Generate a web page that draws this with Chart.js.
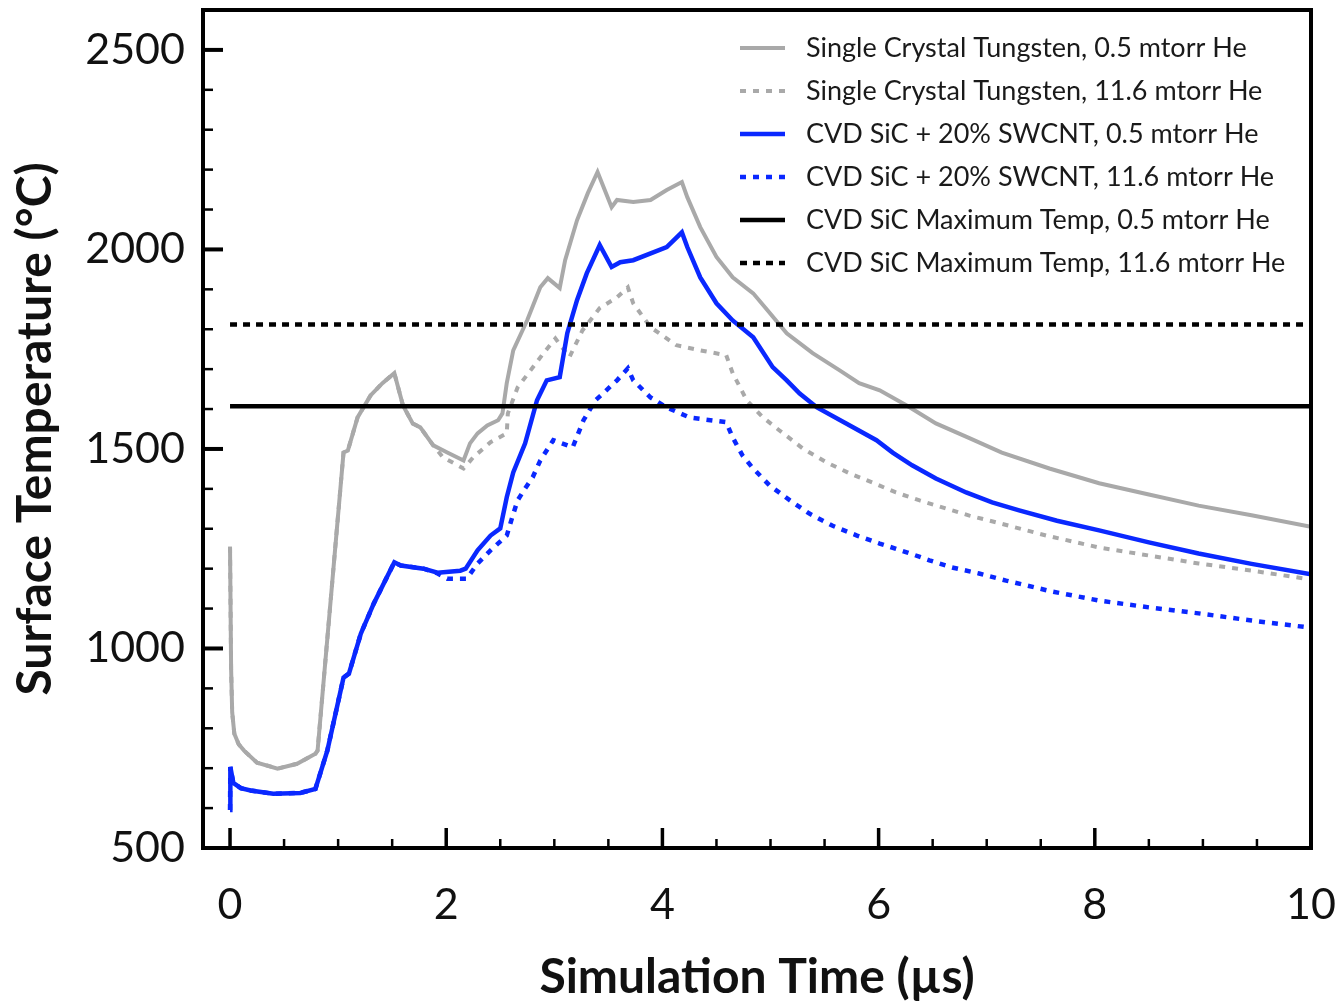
<!DOCTYPE html>
<html>
<head>
<meta charset="utf-8">
<script src="https://cdn.jsdelivr.net/npm/chart.js@4.4.1/dist/chart.umd.min.js"></script>
<style>
  html, body { margin: 0; padding: 0; background: #fff; }
  canvas { display: block; }
</style>
</head>
<body>
<canvas id="chart" width="1339" height="1006"></canvas>
<script>
// Single crystal tungsten, 0.5 mtorr He
const wLowTime = [0, 0.01, 0.02, 0.04, 0.08, 0.13, 0.25, 0.44, 0.62, 0.79, 0.81, 1.05, 1.09, 1.18, 1.30, 1.41, 1.52,
  1.60, 1.69, 1.76, 1.88, 2.01, 2.16, 2.22, 2.29, 2.38, 2.48, 2.52, 2.56, 2.62, 2.75, 2.87, 2.94, 3.05, 3.10, 3.21,
  3.31, 3.40, 3.53, 3.58, 3.73, 3.89, 4.04, 4.18, 4.23, 4.35, 4.50, 4.65, 4.84, 4.97, 5.15, 5.39, 5.64, 5.82, 6.01,
  6.26, 6.53, 6.84, 7.14, 7.58, 8.04, 8.50, 8.96, 9.45, 10];
const wLowTemp = [1255, 950, 840, 786, 760, 744, 714, 699, 711, 736, 744, 1491, 1496, 1579, 1634, 1665, 1690,
  1609, 1564, 1554, 1509, 1491, 1471, 1514, 1539, 1559, 1572, 1589, 1665, 1747, 1823, 1905, 1928, 1903, 1973, 2073,
  2141, 2194, 2106, 2124, 2119, 2124, 2149, 2169, 2131, 2056, 1981, 1930, 1890, 1848, 1790, 1740, 1697, 1665, 1647,
  1609, 1564, 1527, 1491, 1451, 1414, 1386, 1358, 1334, 1305];

// Single crystal tungsten, 11.6 mtorr He
const wHighTime = [0, 0.01, 0.02, 0.04, 0.08, 0.13, 0.25, 0.44, 0.62, 0.79, 0.81, 1.05, 1.09, 1.18, 1.30, 1.41, 1.52,
  1.60, 1.69, 1.76, 1.88, 1.97, 2.16, 2.25, 2.41, 2.56, 2.57, 2.66, 2.78, 2.90, 3.01, 3.07, 3.14, 3.17, 3.26, 3.42,
  3.58, 3.68, 3.73, 3.89, 4.13, 4.35, 4.59, 4.65, 4.78, 4.93, 5.08, 5.30, 5.52, 5.73, 5.94, 6.16, 6.38, 6.62, 6.84,
  7.09, 7.55, 8.04, 8.50, 8.96, 9.45, 10];
const wHighTemp = [1255, 950, 840, 786, 760, 744, 714, 699, 711, 736, 744, 1491, 1496, 1579, 1634, 1665, 1690,
  1609, 1564, 1554, 1509, 1479, 1451, 1479, 1517, 1539, 1589, 1654, 1697, 1740, 1777, 1755, 1730, 1747, 1797, 1853,
  1880, 1905, 1865, 1805, 1760, 1747, 1735, 1690, 1622, 1579, 1547, 1501, 1466, 1439, 1416, 1391, 1371, 1351, 1333,
  1316, 1283, 1253, 1233, 1213, 1195, 1173];

// CVD SiC + 20% SWCNT, 0.5 mtorr He
const sLowTime = [0, 0.003, 0.03, 0.1, 0.19, 0.40, 0.65, 0.79, 0.90, 1.05, 1.10, 1.21, 1.33, 1.52, 1.58, 1.79, 1.92,
  2.13, 2.18, 2.29, 2.41, 2.50, 2.56, 2.62, 2.73, 2.84, 2.93, 3.05, 3.12, 3.21, 3.30, 3.42, 3.53, 3.61, 3.73, 4.04,
  4.18, 4.23, 4.35, 4.50, 4.65, 4.84, 5.02, 5.15, 5.27, 5.43, 5.70, 5.98, 6.13, 6.31, 6.53, 6.81, 7.05, 7.30, 7.65,
  8.04, 8.50, 8.96, 9.45, 10];
const sLowTemp = [595, 703, 663, 650, 644, 636, 638, 648, 744, 927, 937, 1037, 1113, 1216, 1208, 1200, 1190,
  1195, 1200, 1246, 1283, 1301, 1379, 1441, 1514, 1622, 1672, 1680, 1790, 1873, 1940, 2011, 1956, 1968, 1973, 2006,
  2043, 2006, 1930, 1865, 1822, 1780, 1705, 1672, 1639, 1604, 1564, 1522, 1491, 1459, 1426, 1391, 1366, 1346, 1320,
  1296, 1266, 1238, 1212, 1186];

// CVD SiC + 20% SWCNT, 11.6 mtorr He
const sHighTime = [0, 0.003, 0.03, 0.1, 0.19, 0.40, 0.65, 0.79, 0.90, 1.05, 1.10, 1.21, 1.33, 1.52, 1.58, 1.79, 1.92,
  2.01, 2.19, 2.29, 2.41, 2.56, 2.61, 2.66, 2.73, 2.80, 2.87, 2.99, 3.17, 3.27, 3.38, 3.45, 3.58, 3.68, 3.73, 3.89,
  4.04, 4.25, 4.59, 4.65, 4.74, 4.83, 4.99, 5.18, 5.36, 5.57, 5.80, 6.01, 6.26, 6.47, 6.68, 6.93, 7.18, 7.60, 8.04,
  8.50, 8.96, 9.45, 10];
const sHighTemp = [595, 703, 663, 650, 644, 636, 638, 648, 744, 927, 937, 1037, 1113, 1216, 1208, 1200, 1188,
  1175, 1175, 1213, 1246, 1283, 1328, 1371, 1401, 1429, 1471, 1522, 1504, 1572, 1622, 1639, 1672, 1702, 1672, 1629,
  1604, 1579, 1567, 1529, 1484, 1454, 1409, 1371, 1338, 1308, 1283, 1263, 1241, 1221, 1203, 1188, 1170, 1143, 1120,
  1103, 1088, 1070, 1052];

// CVD SiC maximum temperature limits
const limitTime = [0, 10];
const limitLow = [1607, 1607];
const limitHigh = [1812, 1812];

const xTickValues = [0, 2, 4, 6, 8, 10];
const yTickValues = [500, 1000, 1500, 2000, 2500];
const xMinorStep = 0.5;
const yMinorStep = 100;

const GRAY = "#a9a9a9";
const BLUE = "#0a28ff";
const BLACK = "#000000";
const DOTS = [6, 7];

const pairs = (t, v) => t.map((x, i) => ({ x: x, y: v[i] }));

const series = [
  { label: "Single Crystal Tungsten, 0.5 mtorr He", data: pairs(wLowTime, wLowTemp), color: GRAY, width: 4, dash: [], order: 2 },
  { label: "Single Crystal Tungsten, 11.6 mtorr He", data: pairs(wHighTime, wHighTemp), color: GRAY, width: 4, dash: DOTS, order: 2 },
  { label: "CVD SiC + 20% SWCNT, 0.5 mtorr He", data: pairs(sLowTime, sLowTemp), color: BLUE, width: 4.5, dash: [], order: 1 },
  { label: "CVD SiC + 20% SWCNT, 11.6 mtorr He", data: pairs(sHighTime, sHighTemp), color: BLUE, width: 4.5, dash: DOTS, order: 1 },
  { label: "CVD SiC Maximum Temp, 0.5 mtorr He", data: pairs(limitTime, limitLow), color: BLACK, width: 4.5, dash: [], order: 0 },
  { label: "CVD SiC Maximum Temp, 11.6 mtorr He", data: pairs(limitTime, limitHigh), color: BLACK, width: 4.5, dash: [7, 6], order: 0 },
];

// frame, inward ticks and the legend inside the plot
const framePlugin = {
  id: "frame",
  afterDraw: (chart) => {
    const ctx = chart.ctx;
    const area = chart.chartArea;
    const xs = chart.scales.x;
    const ys = chart.scales.y;
    ctx.save();
    ctx.strokeStyle = "#000";
    ctx.lineCap = "butt";

    // minor + major ticks on the x axis
    for (let v = 0; v <= 10 + 1e-9; v += xMinorStep) {
      const major = xTickValues.includes(Math.round(v * 10) / 10);
      const px = xs.getPixelForValue(v);
      ctx.lineWidth = major ? 3.5 : 2.5;
      ctx.beginPath();
      ctx.moveTo(px, area.bottom);
      ctx.lineTo(px, area.bottom - (major ? 20 : 9));
      ctx.stroke();
    }
    // minor + major ticks on the y axis
    for (let v = 500; v <= 2600; v += yMinorStep) {
      const major = yTickValues.includes(v);
      const py = ys.getPixelForValue(v);
      ctx.lineWidth = major ? 4 : 2.5;
      ctx.beginPath();
      ctx.moveTo(area.left, py);
      ctx.lineTo(area.left + (major ? 20 : 10), py);
      ctx.stroke();
    }

    ctx.lineWidth = 4;
    ctx.strokeRect(area.left, area.top, area.right - area.left, area.bottom - area.top);

    // legend
    const lx0 = 740, lx1 = 785, tx = 806, ly = 48, gap = 43;
    ctx.font = "27px Lato";
    ctx.textBaseline = "middle";
    ctx.textAlign = "left";
    series.forEach((s, i) => {
      const y = ly + i * gap;
      ctx.strokeStyle = s.color;
      ctx.lineWidth = s.width;
      ctx.setLineDash(s.dash);
      ctx.beginPath();
      ctx.moveTo(lx0, y);
      ctx.lineTo(lx1, y);
      ctx.stroke();
      ctx.setLineDash([]);
      ctx.fillStyle = "#1a1a1a";
      ctx.fillText(s.label, tx, y);
    });
    ctx.restore();
  },
};

const ctx = document.getElementById("chart").getContext("2d");
new Chart(ctx, {
  type: "line",
  data: {
    datasets: series.map((s) => ({
      label: s.label,
      data: s.data,
      borderColor: s.color,
      borderWidth: s.width,
      borderDash: s.dash,
      pointRadius: 0,
      tension: 0,
      fill: false,
      order: s.order,
    })),
  },
  options: {
    responsive: false,
    animation: false,
    layout: {
      padding: { top: 10, right: 28, left: 0, bottom: 0 },
    },
    plugins: {
      legend: { display: false },
      tooltip: { enabled: false },
    },
    scales: {
      x: {
        type: "linear",
        min: -0.25,
        max: 10,
        afterBuildTicks: (scale) => {
          scale.ticks = xTickValues.map((v) => ({ value: v }));
        },
        afterFit: (scale) => {
          scale.height = 158;
          scale.paddingLeft = 0;
          scale.paddingRight = 0;
        },
        grid: { display: false, drawTicks: false },
        border: { display: false },
        ticks: {
          padding: 31,
          color: "#111",
          font: { family: "Lato", size: 43 },
          maxRotation: 0,
          callback: (v) => String(v),
        },
        title: {
          display: true,
          text: "Simulation Time (µs)",
          color: "#111",
          font: { family: "Lato", size: 48, weight: "bold" },
          padding: { bottom: 0 },
        },
      },
      y: {
        type: "linear",
        min: 500,
        max: 2600,
        afterBuildTicks: (scale) => {
          scale.ticks = yTickValues.map((v) => ({ value: v }));
        },
        afterFit: (scale) => {
          scale.width = 203;
          scale.paddingTop = 0;
          scale.paddingBottom = 0;
        },
        grid: { display: false, drawTicks: false },
        border: { display: false },
        ticks: {
          padding: 18,
          color: "#111",
          font: { family: "Lato", size: 43 },
          callback: (v) => String(v),
        },
        title: {
          display: true,
          text: "Surface Temperature (°C)",
          color: "#111",
          font: { family: "Lato", size: 48, weight: "bold" },
          padding: { top: 7 },
        },
      },
    },
  },
  plugins: [framePlugin],
});
</script>
</body>
</html>
